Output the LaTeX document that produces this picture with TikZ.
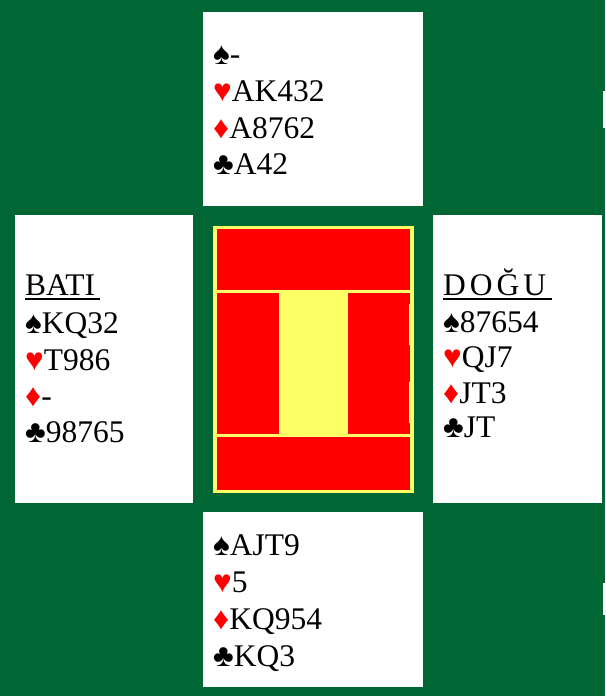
\documentclass[tikz,border=0pt]{standalone}
\usepackage{fontspec}
\setmainfont{Liberation Serif}
\definecolor{felt}{HTML}{006633}
\definecolor{pale}{HTML}{FFFF66}
\newcommand{\Sp}{♠}
\newcommand{\Hr}{\textcolor{red}{♥}}
\newcommand{\Di}{\textcolor{red}{♦}}
\newcommand{\Cl}{♣}
\begin{document}
\begin{tikzpicture}[x=1pt,y=-1pt,
  card/.style={fill=white},
  redbox/.style={fill=red},
  hand/.style={anchor=base west, inner sep=0pt, font=\fontsize{31.5}{37}\selectfont}]
\fill[felt] (0,0) rectangle (605,696);
\useasboundingbox (0,0) rectangle (605,696);
% hands
\fill[card] (203,12) rectangle (423,206);
\fill[card] (15,215) rectangle (193,503);
\fill[card] (433,215) rectangle (602,503);
\fill[card] (203,512) rectangle (423,687);
% centre
\fill[pale] (213,226) rectangle (414,493);
\fill[redbox] (217,229) rectangle (410,290);
\fill[redbox] (217,293) rectangle (279,434);
\fill[redbox] (348,293) rectangle (410,434);
\fill[redbox] (217,437) rectangle (410,490);
% thin white marks
\fill[white] (409,304) rectangle (410,345);
\fill[white] (409,382) rectangle (410,423);
\fill[white] (603,91) rectangle (604.5,128);
\fill[white] (603,583) rectangle (604.5,615);
% north
\node[hand] (n1) at (213,64) {\Sp-};
\node[hand] (n2) at (213,101) {\Hr AK432};
\node[hand] (n3) at (213,138) {\Di A8762};
\node[hand] (n4) at (213,174) {\Cl A42};
% west
\node[hand] (w0) at (25,295) {BATI};
\draw[line width=2pt] (25,299) -- (100,299);
\node[hand] (w1) at (25,333) {\Sp KQ32};
\node[hand] (w2) at (25,370) {\Hr T986};
\node[hand] (w3) at (25,406) {\Di-};
\node[hand] (w4) at (25,442) {\Cl 98765};
% east
\node[hand] (e0) at (443,295) {D\kern4pt O\kern4pt Ğ\kern4pt U};
\draw[line width=2pt] (443,299) -- (552,299);
\node[hand] (e1) at (443,332) {\Sp 87654};
\node[hand] (e2) at (443,367) {\Hr QJ7};
\node[hand] (e3) at (443,403) {\Di JT3};
\node[hand] (e4) at (443,437) {\Cl JT};
% south
\node[hand] (s1) at (213,555) {\Sp AJT9};
\node[hand] (s2) at (213,592) {\Hr 5};
\node[hand] (s3) at (213,629) {\Di KQ954};
\node[hand] (s4) at (213,666) {\Cl KQ3};
\end{tikzpicture}
\end{document}
